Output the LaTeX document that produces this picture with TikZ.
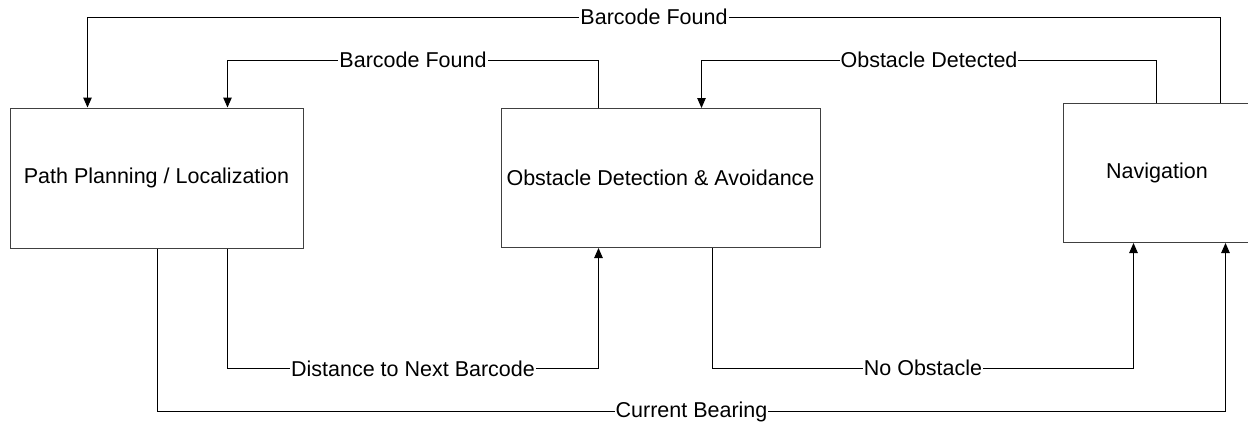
\documentclass[tikz,border=0pt]{standalone}
\usepackage{fontspec}
\setmainfont{Liberation Sans}
\usetikzlibrary{arrows.meta}
\begin{document}
\begin{tikzpicture}[x=1pt,y=-1pt,
  blk/.style={draw=black!75, line width=1pt, fill=white, inner sep=0pt,
    font=\fontsize{21.5}{24}\selectfont},
  arr/.style={draw=black, line width=1pt, -{Triangle[length=10pt,width=8.5pt]}},
  lbl/.style={fill=white, inner xsep=1pt, inner ysep=1pt, font=\fontsize{21.5}{24}\selectfont}]
\useasboundingbox (0,0) rectangle (1248,423);
\node[blk, minimum width=293pt, minimum height=140pt] (pp) at (156.5,178) {Path Planning / Localization};
\node[blk, minimum width=319pt, minimum height=139pt] (od) at (660.5,178) {Obstacle Detection \& Avoidance};
\node[blk, minimum width=188pt, minimum height=139pt] (nav) at (1157,173) {Navigation};
% top connectors
\draw[arr] ([xshift=158pt]nav.north west) -- ++(0,-86)
  -| node[lbl,pos=0.25]{Barcode Found} ([xshift=78pt]pp.north west);
\draw[arr] ([xshift=98pt]od.north west) -- ++(0,-48)
  -| node[lbl,pos=0.25]{Barcode Found} ([xshift=218pt]pp.north west);
\draw[arr] ([xshift=94pt]nav.north west) -- ++(0,-43)
  -| node[lbl,pos=0.25]{Obstacle Detected} ([xshift=201pt]od.north west);
% bottom connectors
\draw[arr] ([xshift=218pt]pp.south west) -- ++(0,120)
  -| node[lbl,pos=0.25]{Distance to Next Barcode} ([xshift=98pt]od.south west);
\draw[arr] ([xshift=212pt]od.south west) -- ++(0,120)
  -| node[lbl,pos=0.25]{No Obstacle} ([xshift=71pt]nav.south west);
\draw[arr] ([xshift=148pt]pp.south west) -- ++(0,163)
  -| node[lbl,pos=0.25]{Current Bearing} ([xshift=163pt]nav.south west);
\end{tikzpicture}
\end{document}
